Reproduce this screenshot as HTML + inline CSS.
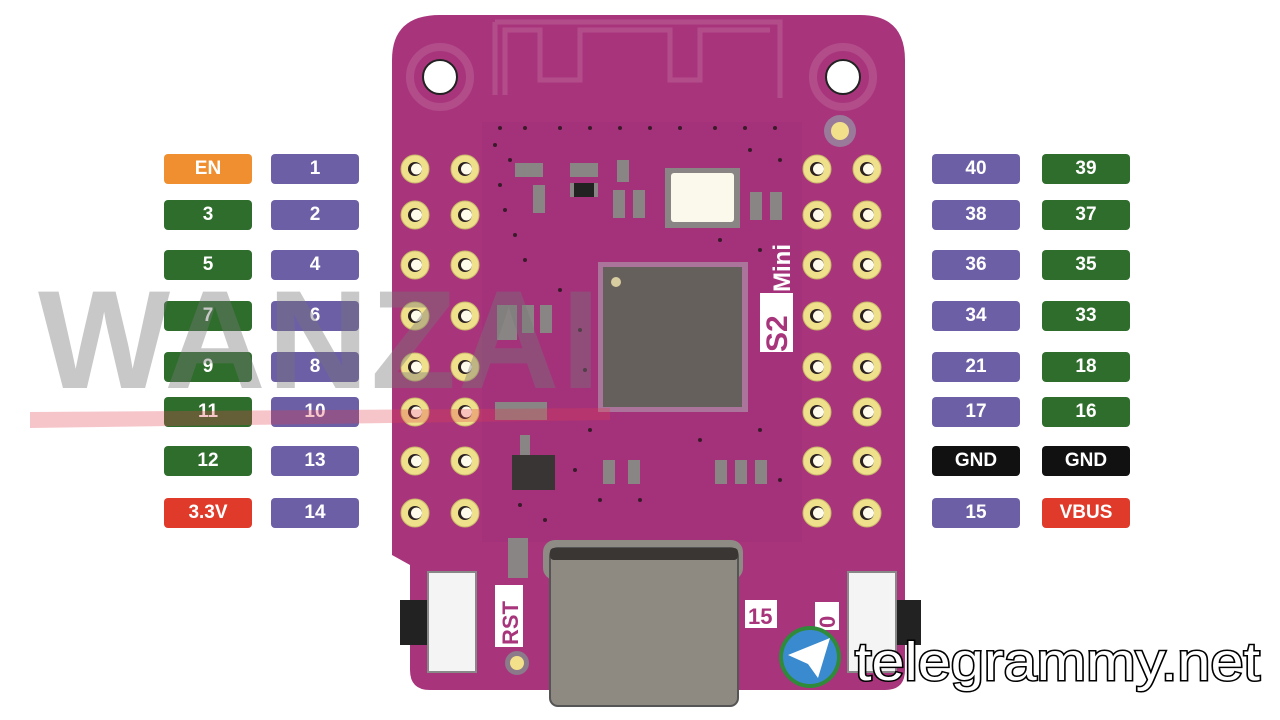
<!DOCTYPE html>
<html><head><meta charset="utf-8"><style>
body{margin:0;width:1280px;height:720px;background:#fff;overflow:hidden;font-family:"Liberation Sans",sans-serif}
</style></head><body>
<svg width="1280" height="720" viewBox="0 0 1280 720" xmlns="http://www.w3.org/2000/svg" style="position:absolute;left:0;top:0">
<path d="M440 15 H860 Q905 15 905 60 V670 Q905 690 885 690 H430 Q410 690 410 670 V565 L392 555 V60 Q392 15 440 15 Z" fill="#a8357c"/>
<path d="M495 95 V22 M495 22 H780 V98 M505 95 V30 H540 V80 H580 V30 H670 V80 H700 V30 H770" stroke="#b24d8a" stroke-width="5" fill="none"/>
<circle cx="440" cy="77" r="30" fill="none" stroke="#b24d8a" stroke-width="8"/>
<circle cx="440" cy="77" r="17" fill="#fff" stroke="#222" stroke-width="2"/>
<circle cx="843" cy="77" r="30" fill="none" stroke="#b24d8a" stroke-width="8"/>
<circle cx="843" cy="77" r="17" fill="#fff" stroke="#222" stroke-width="2"/>
<circle cx="840" cy="131" r="16" fill="#9a7a9a"/>
<circle cx="840" cy="131" r="9" fill="#f2e08a"/>
<rect x="482" y="122" width="320" height="420" fill="#a0307a" opacity="0.5"/>
<g fill="#3a1a2a">
<circle cx="500" cy="128" r="2"/><circle cx="525" cy="128" r="2"/><circle cx="560" cy="128" r="2"/><circle cx="590" cy="128" r="2"/><circle cx="620" cy="128" r="2"/><circle cx="650" cy="128" r="2"/><circle cx="680" cy="128" r="2"/><circle cx="715" cy="128" r="2"/><circle cx="745" cy="128" r="2"/><circle cx="775" cy="128" r="2"/>
<circle cx="495" cy="145" r="2"/><circle cx="510" cy="160" r="2"/><circle cx="500" cy="185" r="2"/><circle cx="505" cy="210" r="2"/><circle cx="515" cy="235" r="2"/><circle cx="525" cy="260" r="2"/><circle cx="560" cy="290" r="2"/><circle cx="580" cy="330" r="2"/><circle cx="585" cy="370" r="2"/><circle cx="590" cy="430" r="2"/><circle cx="575" cy="470" r="2"/><circle cx="600" cy="500" r="2"/><circle cx="640" cy="500" r="2"/><circle cx="700" cy="440" r="2"/><circle cx="760" cy="430" r="2"/><circle cx="780" cy="480" r="2"/><circle cx="750" cy="150" r="2"/><circle cx="780" cy="160" r="2"/><circle cx="720" cy="240" r="2"/><circle cx="760" cy="250" r="2"/><circle cx="545" cy="520" r="2"/><circle cx="520" cy="505" r="2"/>
</g>
<g fill="#8a8585">
<rect x="515" y="163" width="28" height="14"/><rect x="570" y="163" width="28" height="14"/><rect x="570" y="183" width="28" height="14"/>
<rect x="533" y="185" width="12" height="28"/><rect x="613" y="190" width="12" height="28"/><rect x="633" y="190" width="12" height="28"/>
<rect x="617" y="160" width="12" height="22"/><rect x="750" y="192" width="12" height="28"/><rect x="770" y="192" width="12" height="28"/>
<rect x="497" y="305" width="20" height="35"/><rect x="522" y="305" width="12" height="28"/><rect x="540" y="305" width="12" height="28"/>
<rect x="495" y="402" width="52" height="18"/>
<rect x="603" y="460" width="12" height="24"/><rect x="628" y="460" width="12" height="24"/>
<rect x="715" y="460" width="12" height="24"/><rect x="735" y="460" width="12" height="24"/><rect x="755" y="460" width="12" height="24"/>
<rect x="508" y="538" width="20" height="40"/>
</g>
<rect x="574" y="183" width="20" height="14" fill="#222"/>
<rect x="512" y="455" width="43" height="35" fill="#3a3535"/>
<rect x="520" y="435" width="10" height="20" fill="#8a8585"/>
<rect x="665" y="168" width="75" height="60" fill="#8a8585"/>
<rect x="671" y="173" width="63" height="49" rx="3" fill="#fbf8ec"/>
<rect x="598" y="262" width="150" height="150" fill="#b0a0b0" opacity="0.6"/>
<rect x="603" y="267" width="139" height="140" fill="#65605c"/>
<circle cx="616" cy="282" r="5" fill="#d8cda0"/>
<rect x="760" y="293" width="33" height="59" fill="#fff"/>
<text transform="translate(787,352) rotate(-90)" font-size="30" font-weight="bold" fill="#a8357c">S2</text>
<text transform="translate(790,292) rotate(-90)" font-size="24" font-weight="bold" fill="#fff">Mini</text>
<g id="pins"></g>
<rect x="543" y="540" width="200" height="40" rx="12" fill="#8e8a84"/>
<rect x="550" y="548" width="188" height="158" rx="8" fill="#8e8a82" stroke="#555" stroke-width="2"/>
<rect x="550" y="548" width="188" height="12" rx="4" fill="#3a3634"/>
<rect x="400" y="600" width="30" height="45" fill="#222"/>
<rect x="428" y="572" width="48" height="100" fill="#f4f4f4" stroke="#888" stroke-width="2"/>
<rect x="893" y="600" width="28" height="45" fill="#222"/>
<rect x="848" y="572" width="48" height="100" fill="#f4f4f4" stroke="#888" stroke-width="2"/>
<circle cx="517" cy="663" r="12" fill="#8a7a8a"/><circle cx="517" cy="663" r="7" fill="#f2e08a"/>
<rect x="495" y="585" width="28" height="62" fill="#fff"/>
<text transform="translate(518,645) rotate(-90)" font-size="22" font-weight="bold" fill="#a8357c">RST</text>
<rect x="745" y="600" width="32" height="28" fill="#fff"/>
<text x="748" y="624" font-size="22" font-weight="bold" fill="#a8357c">15</text>
<rect x="815" y="602" width="24" height="28" fill="#fff"/>
<text transform="translate(835,628) rotate(-90)" font-size="22" font-weight="bold" fill="#a8357c">0</text>
</svg>
<div id="lab"></div>
<svg width="1280" height="720" viewBox="0 0 1280 720" xmlns="http://www.w3.org/2000/svg" style="position:absolute;left:0;top:0">
<text x="38" y="388" font-size="140" font-weight="bold" fill="#777" opacity="0.4" letter-spacing="2">WANZAI</text>
<path d="M30 412 L610 408 L610 420 L30 428 Z" fill="#e24050" opacity="0.3"/>
<circle cx="810" cy="657" r="31" fill="#2f8a3a"/>
<circle cx="810" cy="657" r="27" fill="#3a8ad0"/>
<path d="M788 655 L830 638 L818 678 L808 664 Z" fill="#fff"/>
<text x="855" y="680" font-size="54" textLength="405" lengthAdjust="spacingAndGlyphs" fill="#fff" stroke="#000" stroke-width="3" paint-order="stroke">telegrammy.net</text>
</svg>
<script>
var ys=[169,215,265,316,367,412,461,513];
var s='';
ys.forEach(function(y){[415,465,817,867].forEach(function(x){
s+='<circle cx="'+x+'" cy="'+y+'" r="14" fill="#efe08c" stroke="#c9b86a" stroke-width="1"/><circle cx="'+x+'" cy="'+y+'" r="7" fill="#2a2020"/><circle cx="'+(x+1.5)+'" cy="'+y+'" r="5.5" fill="#fffbea"/>';});});
document.getElementById('pins').innerHTML=s;
var O='#ef8f2f',P='#6c5fa5',G='#2f6d2c',K='#111',R='#e03a2a';
var L=[['EN',O,'1',P,'40',P,'39',G],['3',G,'2',P,'38',P,'37',G],['5',G,'4',P,'36',P,'35',G],['7',G,'6',P,'34',P,'33',G],['9',G,'8',P,'21',P,'18',G],['11',G,'10',P,'17',P,'16',G],['12',G,'13',P,'GND',K,'GND',K],['3.3V',R,'14',P,'15',P,'VBUS',R]];
var xs=[164,271,932,1042],h='';
L.forEach(function(r,i){for(var j=0;j<4;j++){h+='<div style="position:absolute;left:'+xs[j]+'px;top:'+(ys[i]-15)+'px;width:88px;height:30px;border-radius:4px;background:'+r[j*2+1]+';color:#fff;font-weight:bold;font-size:19px;line-height:30px;text-align:center">'+r[j*2]+'</div>';}});
document.getElementById('lab').innerHTML=h;
</script>
</body></html>
